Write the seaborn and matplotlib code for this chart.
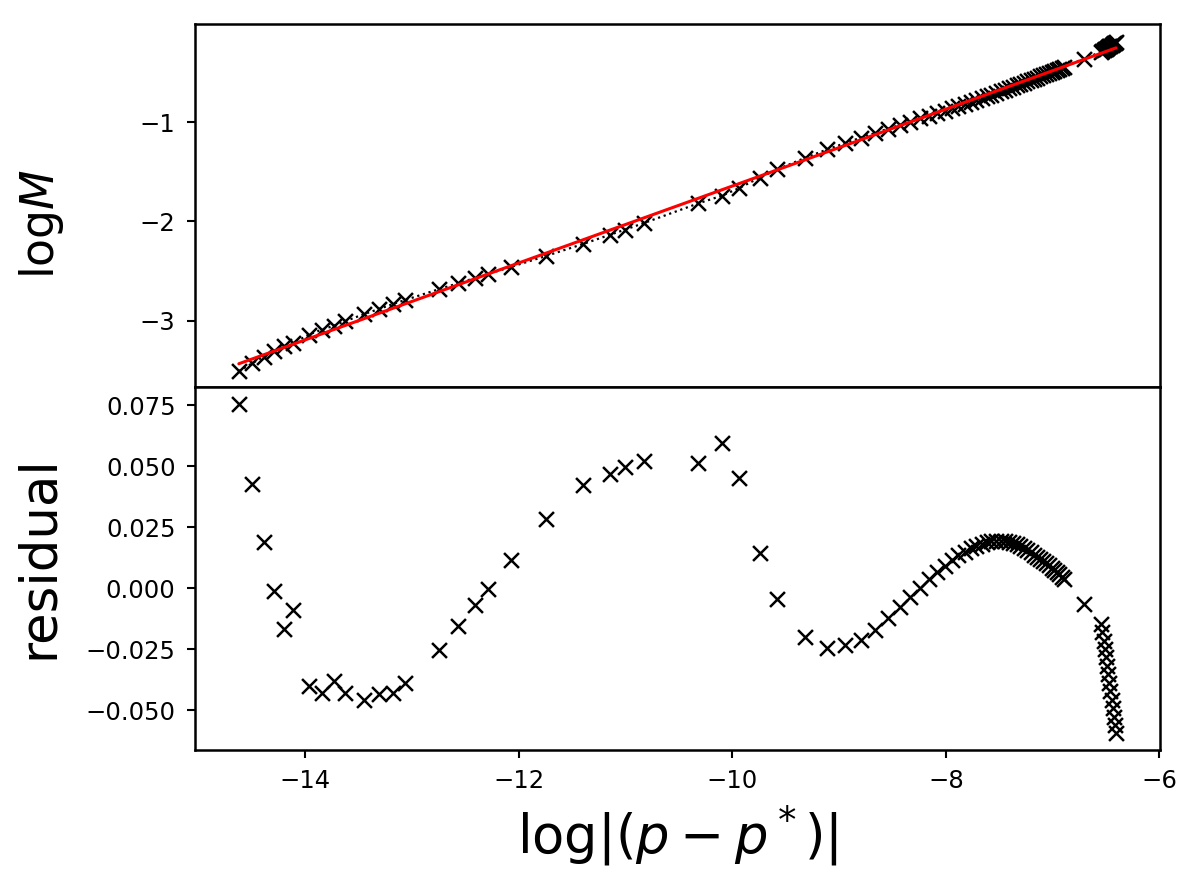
import numpy as np
import pandas as pd
import matplotlib
matplotlib.use("Agg")
import matplotlib.pyplot as plt
import seaborn as sns

# ---- data ----
log_dp = [
    -14.624, -14.498, -14.390, -14.290, -14.197, -14.115, -13.968, -13.844,
    -13.729, -13.626, -13.455, -13.314, -13.183, -13.064, -12.747, -12.572,
    -12.416, -12.291, -12.073, -11.748, -11.402, -11.147, -11.007, -10.829,
    -10.320, -10.096, -9.937, -9.744, -9.582, -9.323, -9.114, -8.949, -8.799,
    -8.668, -8.544, -8.434, -8.334, -8.244, -8.161, -8.085, -8.013, -7.947,
    -7.884, -7.825, -7.770, -7.718, -7.667, -7.619, -7.574, -7.531, -7.489,
    -7.449, -7.410, -7.374, -7.338, -7.303, -7.269, -7.237, -7.206, -7.176,
    -7.147, -7.117, -7.090, -7.063, -7.036, -7.011, -6.986, -6.961, -6.937,
    -6.914, -6.891, -6.704,
    -6.546, -6.535, -6.524, -6.513, -6.502, -6.491, -6.480, -6.469, -6.459,
    -6.448, -6.438, -6.428, -6.418, -6.407,
]
residual = [
    0.0754, 0.0428, 0.0189, -0.0012, -0.0165, -0.0090, -0.0400, -0.0430,
    -0.0380, -0.0430, -0.0458, -0.0434, -0.0430, -0.0387, -0.0253, -0.0154,
    -0.0069, -0.0004, 0.0118, 0.0285, 0.0424, 0.0468, 0.0496, 0.0523,
    0.0513, 0.0595, 0.0451, 0.0144, -0.0045, -0.0199, -0.0246, -0.0233, -0.0212,
    -0.0172, -0.0121, -0.0077, -0.0037, 0.0001, 0.0037, 0.0067, 0.0093, 0.0115,
    0.0135, 0.0151, 0.0165, 0.0175, 0.0183, 0.0189, 0.0193, 0.0195, 0.0195,
    0.0194, 0.0190, 0.0186, 0.0180, 0.0172, 0.0164, 0.0156, 0.0147, 0.0138,
    0.0130, 0.0121, 0.0112, 0.0104, 0.0094, 0.0085, 0.0076, 0.0068, 0.0058,
    0.0048, 0.0038, -0.0063,
    -0.0145, -0.0180, -0.0214, -0.0249, -0.0283, -0.0318, -0.0352, -0.0387,
    -0.0421, -0.0456, -0.0490, -0.0525, -0.0559, -0.0594,
]
# straight-line fit (red line)
fit_slope = 0.3873
fit_intercept = 2.2307

x_ticks = [-14, -12, -10, -8, -6]
top_y_ticks = [-3, -2, -1]
bottom_y_ticks = [-0.050, -0.025, 0.000, 0.025, 0.050, 0.075]

# ---- build table ----
df = pd.DataFrame({"x": log_dp, "residual": residual})
df["fit"] = fit_intercept + fit_slope * df["x"]
df["logM"] = df["fit"] - df["residual"]

sns.set_theme(style="ticks")
plt.rcParams["font.family"] = ["DejaVu Sans"]
plt.rcParams["mathtext.fontset"] = "dejavusans"
for k in ("text.color", "axes.labelcolor", "xtick.color", "ytick.color",
          "axes.edgecolor"):
    plt.rcParams[k] = "black"

fig = plt.figure(figsize=(11.99, 8.94), dpi=100)
gs = fig.add_gridspec(2, 1, left=0.1626, right=0.9675, top=0.9732,
                      bottom=0.1611, hspace=0)
ax1 = fig.add_subplot(gs[0])
ax2 = fig.add_subplot(gs[1], sharex=ax1)

# upper panel
sns.lineplot(data=df, x="x", y="logM", ax=ax1, color="black", linestyle=":",
             linewidth=1.6, estimator=None, sort=False)
sns.scatterplot(data=df, x="x", y="logM", ax=ax1, marker="x", color="black",
                s=115, linewidth=1.8, zorder=3)
sns.lineplot(data=df, x="x", y="fit", ax=ax1, color="red", linewidth=2.2,
             estimator=None, zorder=4)

# lower panel
sns.scatterplot(data=df, x="x", y="residual", ax=ax2, marker="x",
                color="black", s=115, linewidth=1.8)

for ax in (ax1, ax2):
    for sp in ax.spines.values():
        sp.set_linewidth(1.8)
        sp.set_color("black")
        sp.set_visible(True)
    ax.tick_params(axis="both", labelsize=17.5, length=6, width=1.5,
                   pad=8, colors="black", direction="out")

ax1.tick_params(axis="x", bottom=False, labelbottom=False)
ax1.set_yticks(top_y_ticks)
ax2.set_yticks(bottom_y_ticks)
ax2.set_xticks(x_ticks)
ax2.set_xlim(-15.035, -5.995)
ax1.set_ylim(-3.667, -0.010)
ax2.set_ylim(-0.0662, 0.0825)

ax1.set_xlabel("")
ax1.set_ylabel(r"$\mathrm{log}M$", fontsize=33)
ax2.set_ylabel("residual", fontsize=37)
ax2.set_xlabel(r"$\log|(p-p^*)|$", fontsize=38)
ax1.yaxis.set_label_coords(-0.134, 0.45)
ax2.yaxis.set_label_coords(-0.136, 0.53)
ax2.xaxis.set_label_coords(0.5, -0.145)

fig.savefig("out.png", dpi=100)
